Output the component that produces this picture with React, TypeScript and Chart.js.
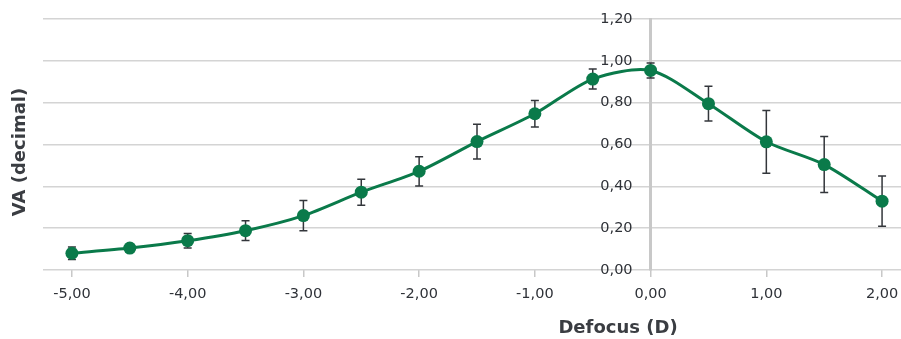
import { useEffect, useRef } from "react";
import { Chart, registerables } from "chart.js";

Chart.register(...registerables);

const defocus = [-5, -4.5, -4, -3.5, -3, -2.5, -2, -1.5, -1, -0.5, 0, 0.5, 1, 1.5, 2];
const vaMean = [0.08, 0.105, 0.14, 0.188, 0.26, 0.372, 0.472, 0.614, 0.747, 0.913, 0.954, 0.795, 0.613, 0.504, 0.329];
const vaErr = [0.03, 0.012, 0.035, 0.047, 0.072, 0.062, 0.07, 0.083, 0.063, 0.048, 0.036, 0.083, 0.15, 0.134, 0.12];
const xTicks = [-5, -4, -3, -2, -1, 0, 1, 2];
const yTicks = [0, 0.2, 0.4, 0.6, 0.8, 1.0, 1.2];
const xTitle = "Defocus (D)";
const yTitle = "VA (decimal)";

const GREEN = "#0a7a4a";
const TEXT = "#2f3238";
const FONT = "'DejaVu Sans'";

const fmt = (v: number) => v.toFixed(2).replace(".", ",");

const errorBarPlugin = {
  id: "errorBars",
  beforeDatasetsDraw(chart: any) {
    const { ctx, scales } = chart;
    const xs = scales.x;
    const ys = scales.y;
    ctx.save();
    ctx.strokeStyle = "#33363b";
    ctx.lineWidth = 1.5;
    defocus.forEach((d, i) => {
      const px = xs.getPixelForValue(d);
      const top = ys.getPixelForValue(vaMean[i] + vaErr[i]);
      const bot = ys.getPixelForValue(vaMean[i] - vaErr[i]);
      ctx.beginPath();
      ctx.moveTo(px, top);
      ctx.lineTo(px, bot);
      ctx.moveTo(px - 4, top);
      ctx.lineTo(px + 4, top);
      ctx.moveTo(px - 4, bot);
      ctx.lineTo(px + 4, bot);
      ctx.stroke();
    });
    ctx.restore();
  },
};

const yLabelPlugin = {
  id: "yLabels",
  afterDraw(chart: any) {
    const { ctx, scales } = chart;
    const ax = scales.x.getPixelForValue(0);
    ctx.save();
    ctx.fillStyle = TEXT;
    ctx.font = `14.5px ${FONT}`;
    ctx.textAlign = "right";
    ctx.textBaseline = "middle";
    yTicks.forEach((v) => {
      ctx.fillText(fmt(v), ax - 18, scales.y.getPixelForValue(v));
    });
    ctx.restore();
  },
};

const titlePlugin = {
  id: "titles",
  afterDraw(chart: any) {
    const { ctx } = chart;
    ctx.save();
    ctx.fillStyle = "#3a3d42";
    ctx.font = `bold 18px ${FONT}`;
    ctx.textAlign = "center";
    ctx.textBaseline = "middle";
    ctx.fillText(xTitle, 618, 328);
    ctx.translate(20, 152);
    ctx.rotate(-Math.PI / 2);
    ctx.fillText(yTitle, 0, 0);
    ctx.restore();
  },
};

export default function App() {
  const ref = useRef<HTMLCanvasElement | null>(null);

  useEffect(() => {
    document.body.style.margin = "0";
    document.body.style.overflow = "hidden";
    const canvas = ref.current;
    if (!canvas) return;
    const chart = new Chart(canvas, {
      type: "line",
      data: {
        datasets: [
          {
            data: defocus.map((d, i) => ({ x: d, y: vaMean[i] })),
            borderColor: GREEN,
            backgroundColor: GREEN,
            borderWidth: 3,
            pointRadius: 6.5,
            pointBackgroundColor: GREEN,
            pointBorderColor: GREEN,
            pointBorderWidth: 0,
            tension: 0.28,
          },
        ],
      },
      options: {
        responsive: false,
        animation: false,
        devicePixelRatio: 1,
        layout: { padding: { left: 43, right: 29, top: 19, bottom: 29 } },
        plugins: {
          legend: { display: false },
          tooltip: { enabled: false },
        },
        scales: {
          x: {
            type: "linear",
            min: -5.25,
            max: 2.25,
            afterBuildTicks: (s: any) => {
              s.ticks = xTicks.map((v) => ({ value: v }));
            },
            afterFit: (s: any) => {
              s.height = 40;
            },
            grid: {
              drawOnChartArea: false,
              drawTicks: true,
              tickLength: 7,
              color: "#c8c8c8",
              lineWidth: 1.5,
            },
            border: { display: false },
            ticks: {
              callback: (v: any) => fmt(Number(v)),
              color: TEXT,
              font: { family: FONT, size: 14.5 },
              padding: 9,
              maxRotation: 0,
              autoSkip: false,
            },
          },
          y: {
            type: "linear",
            position: { x: 0 } as any,
            min: 0,
            max: 1.2,
            afterBuildTicks: (s: any) => {
              s.ticks = yTicks.map((v) => ({ value: v }));
            },
            grid: {
              color: "#d4d4d4",
              lineWidth: 1.5,
              drawTicks: false,
            },
            border: { display: true, color: "#c8c8c8", width: 3 },
            ticks: { display: false },
          },
        },
      },
      plugins: [errorBarPlugin, yLabelPlugin, titlePlugin],
    });
    return () => chart.destroy();
  }, []);

  return (
    <div style={{ width: 901, height: 339, overflow: "hidden", position: "relative" }}>
      <canvas ref={ref} width={940} height={339} style={{ display: "block", width: 940, height: 339 }} />
    </div>
  );
}
